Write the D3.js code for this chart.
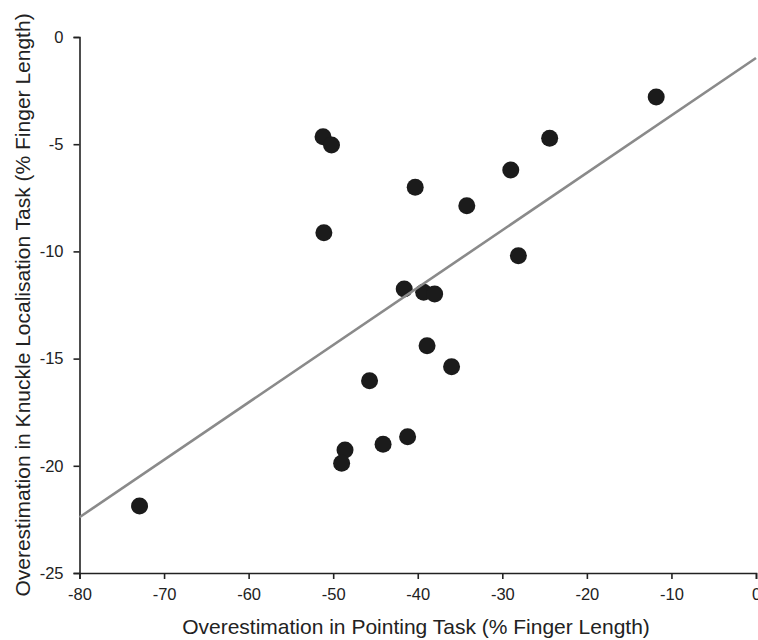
<!DOCTYPE html>
<html><head><meta charset="utf-8">
<script src="https://cdn.jsdelivr.net/npm/d3@7"></script>
<style>body{margin:0;background:#fff;}svg{display:block;}</style>
</head><body>
<script>
const pointingX = [-51.2, -50.2, -24.4, -29.0, -40.3, -34.2, -51.1, -28.1, -41.6, -39.3, -38.0, -38.9, -36.0, -45.7, -41.2, -44.1, -48.6, -49.0, -72.9, -11.8];
const knuckleY  = [-4.65, -5.04, -4.72, -6.20, -7.01, -7.87, -9.13, -10.20, -11.75, -11.91, -11.99, -14.40, -15.38, -16.03, -18.64, -19.00, -19.26, -19.88, -21.87, -2.80];
const fitLineX = [-80, 0];
const fitLineY = [-22.4, -0.98];
const xTicks = [-80, -70, -60, -50, -40, -30, -20, -10, 0];
const yTicks = [0, -5, -10, -15, -20, -25];
const xTitle = "Overestimation in Pointing Task (% Finger Length)";
const yTitle = "Overestimation in Knuckle Localisation Task (% Finger Length)";

const W = 758, H = 640;
const m = {left: 79.5, right: 2, top: 37, bottom: 67};
const svg = d3.select("body").append("svg").attr("width", W).attr("height", H);
const x = d3.scaleLinear().domain([-80, 0]).range([m.left, W - m.right]);
const y = d3.scaleLinear().domain([-25, 0]).range([H - m.bottom, m.top]);
const font = "'Liberation Sans', Arial, Helvetica, sans-serif";
const fmt = d => String(d);

const xa = svg.append("g").attr("transform", `translate(0,${H - m.bottom})`)
  .call(d3.axisBottom(x).tickValues(xTicks).tickSize(6).tickPadding(9).tickFormat(fmt));
const ya = svg.append("g").attr("transform", `translate(${m.left},0)`)
  .call(d3.axisLeft(y).tickValues(yTicks).tickSize(6).tickPadding(10).tickFormat(fmt));
[xa, ya].forEach(g => {
  g.attr("font-size", null).attr("font-family", null);
  g.select(".domain").attr("stroke", "#222").attr("stroke-width", 1.6);
  g.selectAll(".tick line").attr("stroke", "#222").attr("stroke-width", 1.6);
  g.selectAll(".tick text").attr("fill", "#222").attr("font-family", font).attr("font-size", 16.5);
});

svg.append("g").selectAll("circle").data(pointingX.map((v, i) => [v, knuckleY[i]]))
  .join("circle").attr("cx", d => x(d[0])).attr("cy", d => y(d[1])).attr("r", 8.5).attr("fill", "#1b1b1b");

svg.append("line")
  .attr("x1", x(fitLineX[0])).attr("y1", y(fitLineY[0]))
  .attr("x2", x(fitLineX[1])).attr("y2", y(fitLineY[1]))
  .attr("stroke", "#8a8a8a").attr("stroke-width", 2.6);

svg.append("text").attr("x", 416).attr("y", 634).attr("text-anchor", "middle")
  .attr("font-family", font).attr("font-size", 21).attr("fill", "#222").text(xTitle);
svg.append("text").attr("transform", `translate(30,305) rotate(-90)`).attr("text-anchor", "middle")
  .attr("font-family", font).attr("font-size", 21).attr("fill", "#222").text(yTitle);
</script>
</body></html>
